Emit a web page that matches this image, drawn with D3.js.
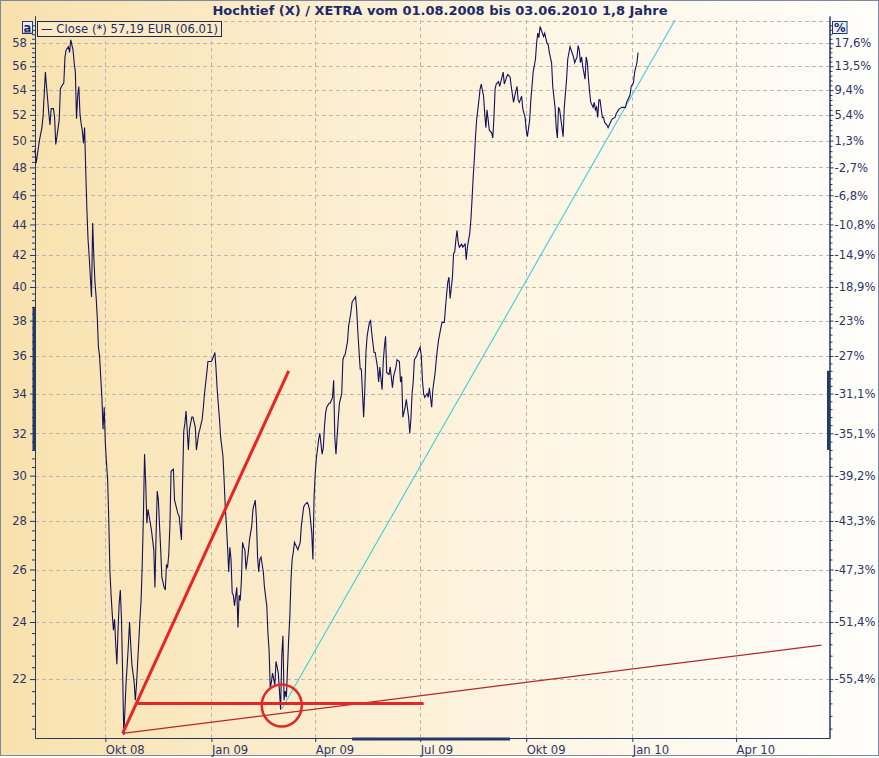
<!DOCTYPE html>
<html>
<head>
<meta charset="utf-8">
<script src="https://cdn.jsdelivr.net/npm/d3@7"></script>
<style>
  html, body { margin: 0; padding: 0; background: #fff; }
  svg { display: block; font-family: 'DejaVu Sans', Verdana, sans-serif; }
</style>
</head>
<body>
<svg id="chart" width="879" height="758"></svg>
<script>
const title = 'Hochtief (X) / XETRA vom 01.08.2008 bis 03.06.2010 1,8 Jahre'
const legendLabel = '— Close (*) 57,19 EUR (06.01)'

const priceTicks = [58, 56, 54, 52, 50, 48, 46, 44, 42, 40, 38, 36, 34, 32, 30, 28, 26, 24, 22]
const percentLabels = ['17,6%', '13,5%', '9,4%', '5,4%', '1,3%', '-2,7%', '-6,8%', '-10,8%', '-14,9%',
  '-18,9%', '-23%', '-27%', '-31,1%', '-35,1%', '-39,2%', '-43,3%', '-47,3%', '-51,4%', '-55,4%']
const gridPrices = [60, 58, 56, 54, 52, 50, 48, 46, 44, 42, 40, 38, 36, 34, 32, 30, 28, 26, 24, 22]

const monthTicks = ['2008-10-01', '2009-01-01', '2009-04-01', '2009-07-01', '2009-10-01', '2010-01-01', '2010-04-01']
const monthLabels = ['Okt 08', 'Jan 09', 'Apr 09', 'Jul 09', 'Okt 09', 'Jan 10', 'Apr 10']

// Hochtief close, EUR
const closeData = [
  ['2008-08-01', 49.34], ['2008-08-02', 48.3], ['2008-08-05', 50.1], ['2008-08-07', 51.0], ['2008-08-08', 51.9],
  ['2008-08-10', 55.5], ['2008-08-11', 54.3], ['2008-08-13', 52.1], ['2008-08-14', 51.2], ['2008-08-15', 52.5],
  ['2008-08-17', 52.5], ['2008-08-18', 51.8], ['2008-08-19', 49.7], ['2008-08-20', 50.3], ['2008-08-22', 51.6],
  ['2008-08-23', 54.1], ['2008-08-24', 54.3], ['2008-08-26', 54.6], ['2008-08-27', 56.8], ['2008-08-28', 57.4],
  ['2008-08-30', 57.7], ['2008-08-31', 57.2], ['2008-09-01', 58.3], ['2008-09-03', 57.4], ['2008-09-04', 56.3],
  ['2008-09-05', 55.5], ['2008-09-06', 51.7], ['2008-09-07', 53.5], ['2008-09-08', 54.3], ['2008-09-09', 52.1],
  ['2008-09-10', 51.3], ['2008-09-11', 50.8], ['2008-09-12', 49.8], ['2008-09-13', 51.0], ['2008-09-14', 47.8],
  ['2008-09-15', 45.0], ['2008-09-16', 43.0], ['2008-09-17', 41.9], ['2008-09-18', 40.6], ['2008-09-19', 39.4],
  ['2008-09-20', 44.1], ['2008-09-21', 41.9], ['2008-09-22', 40.3], ['2008-09-23', 39.4], ['2008-09-24', 38.2],
  ['2008-09-25', 36.5], ['2008-09-26', 36.0], ['2008-09-28', 33.8], ['2008-09-29', 32.2], ['2008-09-30', 33.3],
  ['2008-10-01', 31.5], ['2008-10-02', 30.6], ['2008-10-03', 29.8], ['2008-10-04', 28.0], ['2008-10-05', 25.9],
  ['2008-10-06', 25.0], ['2008-10-07', 24.3], ['2008-10-08', 23.7], ['2008-10-09', 24.1], ['2008-10-10', 23.2],
  ['2008-10-11', 22.5], ['2008-10-12', 23.7], ['2008-10-13', 24.7], ['2008-10-14', 25.2], ['2008-10-15', 24.1],
  ['2008-10-16', 22.2], ['2008-10-17', 20.2], ['2008-10-18', 21.0], ['2008-10-19', 21.9], ['2008-10-20', 22.5],
  ['2008-10-21', 23.2], ['2008-10-22', 24.0], ['2008-10-23', 23.2], ['2008-10-24', 22.5], ['2008-10-26', 21.9],
  ['2008-10-27', 21.3], ['2008-10-28', 21.8], ['2008-10-30', 23.3], ['2008-10-31', 24.1], ['2008-11-01', 24.8],
  ['2008-11-02', 26.2], ['2008-11-03', 28.2], ['2008-11-04', 31.0], ['2008-11-05', 29.7], ['2008-11-06', 27.9],
  ['2008-11-07', 28.5], ['2008-11-09', 27.9], ['2008-11-10', 27.6], ['2008-11-12', 26.8], ['2008-11-13', 25.3],
  ['2008-11-14', 27.4], ['2008-11-15', 29.3], ['2008-11-16', 28.9], ['2008-11-17', 27.8], ['2008-11-18', 26.8],
  ['2008-11-19', 25.7], ['2008-11-21', 25.3], ['2008-11-22', 25.2], ['2008-11-23', 26.2], ['2008-11-24', 26.1],
  ['2008-11-25', 26.6], ['2008-11-26', 27.8], ['2008-11-27', 30.2], ['2008-11-29', 30.3], ['2008-11-30', 28.9],
  ['2008-12-01', 28.7], ['2008-12-03', 28.3], ['2008-12-04', 28.2], ['2008-12-06', 27.2], ['2008-12-07', 29.7],
  ['2008-12-08', 32.1], ['2008-12-09', 32.5], ['2008-12-10', 33.1], ['2008-12-12', 31.2], ['2008-12-13', 32.2],
  ['2008-12-15', 32.8], ['2008-12-16', 32.8], ['2008-12-18', 32.3], ['2008-12-19', 31.2], ['2008-12-21', 32.0],
  ['2008-12-22', 32.2], ['2008-12-24', 32.7], ['2008-12-25', 33.3], ['2008-12-26', 34.0], ['2008-12-28', 35.1],
  ['2008-12-29', 35.7], ['2008-12-31', 35.7], ['2009-01-01', 35.7], ['2009-01-03', 36.0], ['2009-01-04', 36.2],
  ['2009-01-05', 35.3], ['2009-01-06', 34.2], ['2009-01-08', 32.7], ['2009-01-09', 31.8], ['2009-01-11', 30.9],
  ['2009-01-12', 29.8], ['2009-01-13', 28.6], ['2009-01-14', 27.8], ['2009-01-15', 26.9], ['2009-01-16', 25.9],
  ['2009-01-17', 26.9], ['2009-01-18', 26.4], ['2009-01-19', 25.1], ['2009-01-20', 25.0], ['2009-01-21', 24.6],
  ['2009-01-23', 25.3], ['2009-01-24', 23.8], ['2009-01-25', 25.0], ['2009-01-26', 24.8], ['2009-01-27', 25.6],
  ['2009-01-28', 27.1], ['2009-01-29', 26.9], ['2009-01-30', 26.8], ['2009-01-31', 26.0], ['2009-02-02', 26.7],
  ['2009-02-03', 27.2], ['2009-02-05', 27.8], ['2009-02-06', 28.5], ['2009-02-08', 28.9], ['2009-02-09', 28.1],
  ['2009-02-10', 26.5], ['2009-02-11', 25.9], ['2009-02-12', 26.4], ['2009-02-13', 26.5], ['2009-02-15', 25.9],
  ['2009-02-16', 25.3], ['2009-02-18', 24.6], ['2009-02-19', 23.6], ['2009-02-20', 23.0], ['2009-02-21', 21.7],
  ['2009-02-22', 21.9], ['2009-02-23', 22.2], ['2009-02-25', 21.8], ['2009-02-26', 22.6], ['2009-02-28', 22.2],
  ['2009-03-01', 21.6], ['2009-03-02', 21.0], ['2009-03-03', 22.8], ['2009-03-04', 23.5], ['2009-03-05', 21.3],
  ['2009-03-06', 21.6], ['2009-03-07', 21.4], ['2009-03-09', 23.4], ['2009-03-10', 24.2], ['2009-03-11', 25.6],
  ['2009-03-12', 26.4], ['2009-03-13', 26.7], ['2009-03-14', 27.1], ['2009-03-16', 26.9], ['2009-03-17', 26.8],
  ['2009-03-19', 27.1], ['2009-03-20', 27.8], ['2009-03-22', 28.6], ['2009-03-23', 28.7], ['2009-03-25', 28.8],
  ['2009-03-26', 28.7], ['2009-03-27', 28.5], ['2009-03-29', 27.5], ['2009-03-30', 26.4], ['2009-03-31', 29.0],
  ['2009-04-01', 30.1], ['2009-04-02', 30.8], ['2009-04-04', 31.7], ['2009-04-05', 32.0], ['2009-04-07', 31.0],
  ['2009-04-08', 31.3], ['2009-04-09', 32.3], ['2009-04-10', 33.0], ['2009-04-11', 33.3], ['2009-04-13', 33.5],
  ['2009-04-14', 33.5], ['2009-04-16', 33.8], ['2009-04-17', 34.7], ['2009-04-18', 31.8], ['2009-04-19', 31.0],
  ['2009-04-21', 32.7], ['2009-04-22', 33.5], ['2009-04-24', 34.0], ['2009-04-25', 35.8], ['2009-04-26', 36.0],
  ['2009-04-27', 36.1], ['2009-04-29', 36.8], ['2009-04-30', 37.7], ['2009-05-02', 38.5], ['2009-05-03', 39.1],
  ['2009-05-04', 39.2], ['2009-05-06', 39.4], ['2009-05-07', 38.6], ['2009-05-08', 37.3], ['2009-05-10', 35.3],
  ['2009-05-11', 35.3], ['2009-05-13', 32.8], ['2009-05-14', 34.2], ['2009-05-15', 36.2], ['2009-05-16', 37.1],
  ['2009-05-18', 37.9], ['2009-05-19', 38.0], ['2009-05-20', 37.3], ['2009-05-22', 36.2], ['2009-05-23', 36.2],
  ['2009-05-25', 35.4], ['2009-05-26', 34.6], ['2009-05-27', 35.4], ['2009-05-29', 34.2], ['2009-05-30', 35.7],
  ['2009-05-31', 36.5], ['2009-06-01', 37.1], ['2009-06-02', 35.1], ['2009-06-04', 35.0], ['2009-06-05', 35.4],
  ['2009-06-07', 34.3], ['2009-06-08', 34.9], ['2009-06-10', 35.4], ['2009-06-11', 35.8], ['2009-06-13', 35.7],
  ['2009-06-14', 34.6], ['2009-06-15', 34.9], ['2009-06-16', 32.8], ['2009-06-18', 33.3], ['2009-06-19', 33.7],
  ['2009-06-21', 32.8], ['2009-06-22', 32.0], ['2009-06-23', 32.7], ['2009-06-24', 34.0], ['2009-06-25', 34.6],
  ['2009-06-26', 35.8], ['2009-06-28', 36.0], ['2009-06-29', 36.2], ['2009-07-01', 36.5], ['2009-07-02', 36.0],
  ['2009-07-03', 34.7], ['2009-07-04', 34.0], ['2009-07-05', 33.8], ['2009-07-07', 34.0], ['2009-07-08', 33.8],
  ['2009-07-09', 34.3], ['2009-07-11', 33.3], ['2009-07-12', 34.2], ['2009-07-14', 35.1], ['2009-07-15', 35.8],
  ['2009-07-16', 36.4], ['2009-07-17', 36.9], ['2009-07-19', 37.6], ['2009-07-20', 37.9], ['2009-07-22', 37.9],
  ['2009-07-23', 38.8], ['2009-07-24', 39.6], ['2009-07-25', 40.3], ['2009-07-26', 40.6], ['2009-07-27', 39.3],
  ['2009-07-29', 40.6], ['2009-07-30', 42.1], ['2009-07-31', 42.2], ['2009-08-01', 43.0], ['2009-08-02', 43.6],
  ['2009-08-03', 42.8], ['2009-08-04', 42.5], ['2009-08-06', 42.7], ['2009-08-07', 42.5], ['2009-08-09', 42.7],
  ['2009-08-10', 41.7], ['2009-08-11', 42.5], ['2009-08-13', 43.4], ['2009-08-14', 44.3], ['2009-08-15', 45.7],
  ['2009-08-16', 47.3], ['2009-08-17', 48.6], ['2009-08-18', 50.3], ['2009-08-19', 51.6], ['2009-08-21', 53.2],
  ['2009-08-22', 54.1], ['2009-08-23', 54.5], ['2009-08-25', 53.5], ['2009-08-26', 52.1], ['2009-08-27', 51.0],
  ['2009-08-28', 52.4], ['2009-08-29', 51.6], ['2009-08-30', 50.8], ['2009-09-01', 50.6], ['2009-09-02', 50.2],
  ['2009-09-03', 51.8], ['2009-09-04', 54.1], ['2009-09-05', 54.5], ['2009-09-07', 54.7], ['2009-09-08', 54.3],
  ['2009-09-10', 55.1], ['2009-09-11', 55.5], ['2009-09-12', 54.5], ['2009-09-14', 55.1], ['2009-09-15', 55.3],
  ['2009-09-17', 55.1], ['2009-09-18', 54.3], ['2009-09-20', 53.0], ['2009-09-21', 53.5], ['2009-09-23', 54.3],
  ['2009-09-24', 53.2], ['2009-09-25', 53.0], ['2009-09-27', 53.5], ['2009-09-28', 52.5], ['2009-09-30', 51.8],
  ['2009-10-01', 50.8], ['2009-10-02', 50.3], ['2009-10-04', 51.6], ['2009-10-05', 53.2], ['2009-10-06', 54.3],
  ['2009-10-07', 55.5], ['2009-10-09', 56.6], ['2009-10-10', 58.0], ['2009-10-11', 58.9], ['2009-10-12', 58.5],
  ['2009-10-13', 59.5], ['2009-10-15', 58.9], ['2009-10-16', 58.6], ['2009-10-17', 58.9], ['2009-10-19', 58.0],
  ['2009-10-20', 57.9], ['2009-10-21', 57.2], ['2009-10-23', 56.3], ['2009-10-24', 54.3], ['2009-10-26', 52.6],
  ['2009-10-27', 51.0], ['2009-10-28', 50.2], ['2009-10-29', 52.6], ['2009-10-30', 52.4], ['2009-11-01', 51.0],
  ['2009-11-02', 50.3], ['2009-11-03', 52.6], ['2009-11-05', 54.9], ['2009-11-06', 56.6], ['2009-11-08', 57.7],
  ['2009-11-09', 57.4], ['2009-11-11', 56.8], ['2009-11-12', 56.3], ['2009-11-14', 56.8], ['2009-11-15', 57.8],
  ['2009-11-16', 57.4], ['2009-11-17', 56.3], ['2009-11-18', 56.8], ['2009-11-19', 56.0], ['2009-11-21', 54.9],
  ['2009-11-22', 56.8], ['2009-11-23', 56.3], ['2009-11-24', 54.9], ['2009-11-25', 53.8], ['2009-11-26', 53.0],
  ['2009-11-28', 52.6], ['2009-11-29', 53.0], ['2009-11-30', 52.4], ['2009-12-01', 52.6], ['2009-12-02', 51.8],
  ['2009-12-03', 53.2], ['2009-12-04', 53.2], ['2009-12-06', 51.8], ['2009-12-07', 51.8], ['2009-12-08', 51.4],
  ['2009-12-10', 51.2], ['2009-12-11', 51.0], ['2009-12-13', 51.4], ['2009-12-14', 51.6], ['2009-12-15', 51.7],
  ['2009-12-17', 51.8], ['2009-12-18', 52.1], ['2009-12-20', 52.4], ['2009-12-21', 52.5], ['2009-12-23', 52.6],
  ['2009-12-24', 52.6], ['2009-12-26', 52.6], ['2009-12-27', 53.0], ['2009-12-28', 53.2], ['2009-12-30', 53.6],
  ['2009-12-31', 54.3], ['2010-01-02', 54.6], ['2010-01-03', 55.5], ['2010-01-05', 56.3], ['2010-01-06', 57.19]
]

// hand drawn lines on the chart: [date, price] end points
const supportLine = [['2008-10-16', 20.25], ['2010-06-14', 23.17]]
const riseLine = [['2008-10-16', 20.25], ['2009-03-09', 35.2]]
const lowLine = [['2008-10-29', 21.2], ['2009-07-04', 21.2]]
const recoveryLine = [['2009-03-03', 21.02], ['2010-02-07', 60.1]]
const lowMark = ['2009-03-03', 21.13]

// marked ranges on the axes
const leftRange = [31.2, 38.8]
const rightRange = [31.2, 35.2]
const dateRange = ['2009-05-03', '2009-09-17']

const width = 879
const height = 758
const plot = {left: 35, right: 829.5, top: 16, bottom: 738}
const navy = '#1c2a6a'
const axisColor = '#21396b'
const labelColor = '#2c3565'

const parseDate = d3.timeParse('%Y-%m-%d')
const series = closeData.map(d => ({date: parseDate(d[0]), close: d[1]}))

const x = d3.scaleTime()
  .domain([parseDate('2008-08-01'), parseDate('2010-06-21')])
  .range([plot.left, plot.right])
const y = d3.scaleLog()
  .domain([20.11, 60.46])
  .range([plot.bottom, plot.top])

const svg = d3.select('#chart')
const defs = svg.append('defs')
const grad = defs.append('linearGradient').attr('id', 'bg').attr('x1', 0).attr('x2', 1).attr('y1', 0).attr('y2', 0)
grad.append('stop').attr('offset', 0).attr('stop-color', '#f8e1ac')
grad.append('stop').attr('offset', 0.3).attr('stop-color', '#fbebc9')
grad.append('stop').attr('offset', 0.65).attr('stop-color', '#fef6e6')
grad.append('stop').attr('offset', 1).attr('stop-color', '#fffefb')

svg.append('rect').attr('width', width).attr('height', height).attr('fill', '#fff')
svg.append('rect').attr('x', 0.5).attr('y', 0.5).attr('width', width - 1).attr('height', 755)
  .attr('fill', 'url(#bg)').attr('stroke', '#7f8898')

// grid
const grid = svg.append('g').attr('stroke', '#bcb8ae').attr('stroke-dasharray', '4,3').attr('stroke-width', 1)
grid.selectAll('.h').data(gridPrices).join('line')
  .attr('x1', plot.left).attr('x2', plot.right)
  .attr('y1', d => Math.round(y(d)) + 0.5).attr('y2', d => Math.round(y(d)) + 0.5)
grid.selectAll('.v').data(monthTicks).join('line')
  .attr('x1', d => Math.round(x(parseDate(d))) + 0.5).attr('x2', d => Math.round(x(parseDate(d))) + 0.5)
  .attr('y1', 20).attr('y2', plot.bottom)

// minor ticks
const minorPrices = d3.range(20.4, 60.2, 0.4).filter(v => Math.abs(v / 2 - Math.round(v / 2)) > 0.01)

function styleAxis(g) {
  g.select('.domain').attr('stroke', axisColor)
  g.selectAll('.tick line').attr('stroke', axisColor)
  g.selectAll('.tick text').attr('fill', labelColor).attr('font-size', 11.6)
    .attr('font-family', "'DejaVu Sans', Verdana, sans-serif")
}

svg.append('g').attr('transform', `translate(${plot.left},0)`)
  .call(d3.axisLeft(y).tickValues(minorPrices).tickSize(3).tickSizeOuter(0).tickFormat(''))
  .call(styleAxis)
svg.append('g').attr('transform', `translate(${plot.left},0)`)
  .call(d3.axisLeft(y).tickValues(priceTicks).tickSize(5).tickPadding(3).tickSizeOuter(0).tickFormat(d => d))
  .call(styleAxis)

svg.append('g').attr('transform', `translate(${plot.right},0)`)
  .call(d3.axisRight(y).tickValues(minorPrices).tickSize(3).tickSizeOuter(0).tickFormat(''))
  .call(styleAxis)
svg.append('g').attr('transform', `translate(${plot.right},0)`)
  .call(d3.axisRight(y).tickValues(priceTicks).tickSize(4).tickPadding(1).tickSizeOuter(0)
    .tickFormat((d, i) => percentLabels[i]))
  .call(styleAxis)

const xAxis = svg.append('g').attr('transform', `translate(0,${plot.bottom})`)
  .call(d3.axisBottom(x).tickValues(monthTicks.map(parseDate)).tickSize(4).tickSizeOuter(0)
    .tickFormat((d, i) => monthLabels[i]))
  .call(styleAxis)
xAxis.selectAll('.tick text').attr('text-anchor', 'start').attr('x', 0).attr('y', 15.5).attr('dy', 0)

// axis range markers
const marks = svg.append('g').attr('stroke', axisColor).attr('stroke-width', 3)
marks.append('line').attr('x1', plot.left - 1).attr('x2', plot.left - 1)
  .attr('y1', y(leftRange[0])).attr('y2', y(leftRange[1]))
marks.append('line').attr('x1', plot.right - 1).attr('x2', plot.right - 1)
  .attr('y1', y(rightRange[0])).attr('y2', y(rightRange[1]))
marks.append('line').attr('y1', plot.bottom + 1).attr('y2', plot.bottom + 1)
  .attr('x1', x(parseDate(dateRange[0]))).attr('x2', x(parseDate(dateRange[1])))

// hand drawn lines
const seg = pts => d3.line().x(p => x(parseDate(p[0]))).y(p => y(p[1]))(pts)
svg.append('path').attr('d', seg(supportLine)).attr('stroke', '#b3282a').attr('stroke-width', 1.2).attr('fill', 'none')
svg.append('path').attr('d', seg(recoveryLine)).attr('stroke', '#3fcfd6').attr('stroke-width', 1.1).attr('fill', 'none')

// price line
const line = d3.line().x(d => x(d.date)).y(d => y(d.close))
svg.append('path').datum(series)
  .attr('d', line)
  .attr('fill', 'none')
  .attr('stroke', '#12125a')
  .attr('stroke-width', 1.1)

svg.append('path').attr('d', seg(riseLine)).attr('stroke', '#e52626').attr('stroke-width', 3).attr('fill', 'none')
svg.append('path').attr('d', seg(lowLine)).attr('stroke', '#e52626').attr('stroke-width', 3).attr('fill', 'none')
svg.append('ellipse')
  .attr('cx', x(parseDate(lowMark[0]))).attr('cy', y(lowMark[1]))
  .attr('rx', 20).attr('ry', 21)
  .attr('fill', 'none').attr('stroke', '#e52626').attr('stroke-width', 2.5)

// title
svg.append('text').attr('x', 440).attr('y', 14.5)
  .attr('text-anchor', 'middle').attr('font-weight', 'bold').attr('font-size', 13)
  .attr('fill', navy).text(title)

// legend
svg.append('rect').attr('x', 37.5).attr('y', 21.5).attr('width', 184).attr('height', 15)
  .attr('fill', '#fbeac4').attr('stroke', '#1e2a52')
svg.append('text').attr('x', 41).attr('y', 33).attr('font-size', 11.6).attr('fill', navy)
  .attr('textLength', 177).text(legendLabel)

// small buttons
const button = (bx, bw, label, underline) => {
  svg.append('rect').attr('x', bx + 0.5).attr('y', 21.5).attr('width', bw).attr('height', 12)
    .attr('fill', '#e9eef8').attr('stroke', '#24386a')
  svg.append('text').attr('x', bx + 0.5 + bw / 2).attr('y', 31.5).attr('text-anchor', 'middle')
    .attr('font-size', 11.5).attr('font-weight', 'bold').attr('fill', navy)
    .attr('text-decoration', underline ? 'underline' : null).text(label)
}
button(22, 10, 'a', true)
button(832, 14.5, '%', false)
</script>
</body>
</html>
